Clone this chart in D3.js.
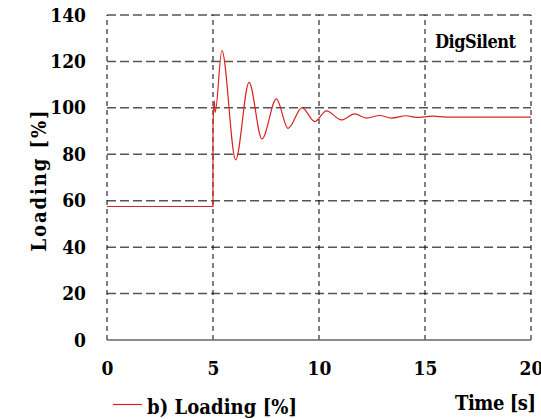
<!DOCTYPE html>
<html>
<head>
<meta charset="utf-8">
<script src="https://cdn.jsdelivr.net/npm/d3@7"></script>
<style>
    body { margin: 0; background: #fff; }
</style>
</head>
<body>
<div id="chart"></div>
<script>
// Loading curve (time in s, loading in %)
const time = [0, 5, 5, 5.06, 5.1, 5.42, 6.07, 6.70, 7.31, 7.99, 8.54, 9.20, 9.80,
    10.35, 11.06, 11.68, 12.24, 12.86, 13.42, 14.12, 14.6, 15.36, 16.0, 20];
const loading = [57.5, 57.5, 93, 103, 98, 124.7, 77.6, 111, 86.6, 103.9, 91.2, 100.1, 94.1,
    98.7, 94.8, 97.4, 95.6, 96.7, 95.6, 96.6, 95.9, 96.4, 96.0, 96.0];

const xTicks = [0, 5, 10, 15, 20];
const yTicks = [0, 20, 40, 60, 80, 100, 120, 140];

const width = 541, height = 419;
const margin = {top: 15, right: 10, bottom: 79, left: 107};
const serif = "'DejaVu Serif Condensed', 'DejaVu Serif', serif";

const svg = d3.select("#chart")
    .append("svg")
    .attr("width", width)
    .attr("height", height)
    .style("font-family", serif)
    .style("font-weight", "bold");

const x = d3.scaleLinear().domain([0, 20]).range([margin.left, width - margin.right]);
const y = d3.scaleLinear().domain([0, 140]).range([height - margin.bottom, margin.top]);

// horizontal grid (grey dashes)
svg.append("g")
    .selectAll("line")
    .data(yTicks.filter(d => d > 0))
    .enter()
    .append("line")
    .attr("x1", x(0)).attr("x2", x(20))
    .attr("y1", d => y(d)).attr("y2", d => y(d))
    .attr("stroke", "#555")
    .attr("stroke-width", 1.5)
    .attr("stroke-dasharray", "9,4");

// vertical grid (black dashes)
svg.append("g")
    .selectAll("line")
    .data(xTicks)
    .enter()
    .append("line")
    .attr("x1", d => x(d)).attr("x2", d => x(d))
    .attr("y1", y(0)).attr("y2", y(140))
    .attr("stroke", "#000")
    .attr("stroke-width", 1)
    .attr("stroke-dasharray", "5,4");

// bottom axis line
svg.append("line")
    .attr("x1", x(0)).attr("x2", x(20))
    .attr("y1", y(0)).attr("y2", y(0))
    .attr("stroke", "#666")
    .attr("stroke-width", 1.5);

// tick labels
const yAxis = svg.append("g")
    .attr("transform", "translate(" + x(0) + ",0)")
    .call(d3.axisLeft(y).tickValues(yTicks).tickSize(0).tickPadding(21));
yAxis.select(".domain").remove();
yAxis.attr("font-family", null).attr("font-size", null);
yAxis.selectAll("text")
    .style("font-family", serif)
    .style("font-weight", "bold")
    .style("font-size", "19px")
    .attr("fill", "#000");

const xAxis = svg.append("g")
    .attr("transform", "translate(0," + y(0) + ")")
    .call(d3.axisBottom(x).tickValues(xTicks).tickSize(0).tickPadding(22));
xAxis.select(".domain").remove();
xAxis.attr("font-family", null).attr("font-size", null);
xAxis.selectAll("text")
    .style("font-family", serif)
    .style("font-weight", "bold")
    .style("font-size", "19px")
    .attr("fill", "#000");

// curve: step part linear, oscillation smooth
const pts = time.map((t, i) => [t, loading[i]]);
const line = d3.line().x(d => x(d[0])).y(d => y(d[1]));

svg.append("path")
    .attr("d", line.curve(d3.curveLinear)(pts.slice(0, 3)))
    .attr("fill", "none")
    .attr("stroke", "#d92323")
    .attr("stroke-width", 1.2);

svg.append("path")
    .attr("d", line.curve(d3.curveMonotoneX)(pts.slice(2)))
    .attr("fill", "none")
    .attr("stroke", "#d92323")
    .attr("stroke-width", 1.2);

// titles
svg.append("text")
    .attr("transform", "translate(46,181) rotate(-90)")
    .attr("text-anchor", "middle")
    .style("font-size", "20px")
    .attr("textLength", 141)
    .text("Loading [%]");

svg.append("text")
    .attr("x", 536).attr("y", 410)
    .attr("text-anchor", "end")
    .style("font-size", "20px")
    .attr("textLength", 81)
    .text("Time [s]");

svg.append("text")
    .attr("x", 435).attr("y", 48)
    .style("font-size", "18px")
    .attr("textLength", 81)
    .text("DigSilent");

// legend
svg.append("line")
    .attr("x1", 113).attr("x2", 142)
    .attr("y1", 404.5).attr("y2", 404.5)
    .attr("stroke", "#d92323")
    .attr("stroke-width", 1.2);

svg.append("text")
    .attr("x", 147).attr("y", 414)
    .style("font-size", "20px")
    .attr("textLength", 150)
    .text("b) Loading [%]");
</script>
</body>
</html>
